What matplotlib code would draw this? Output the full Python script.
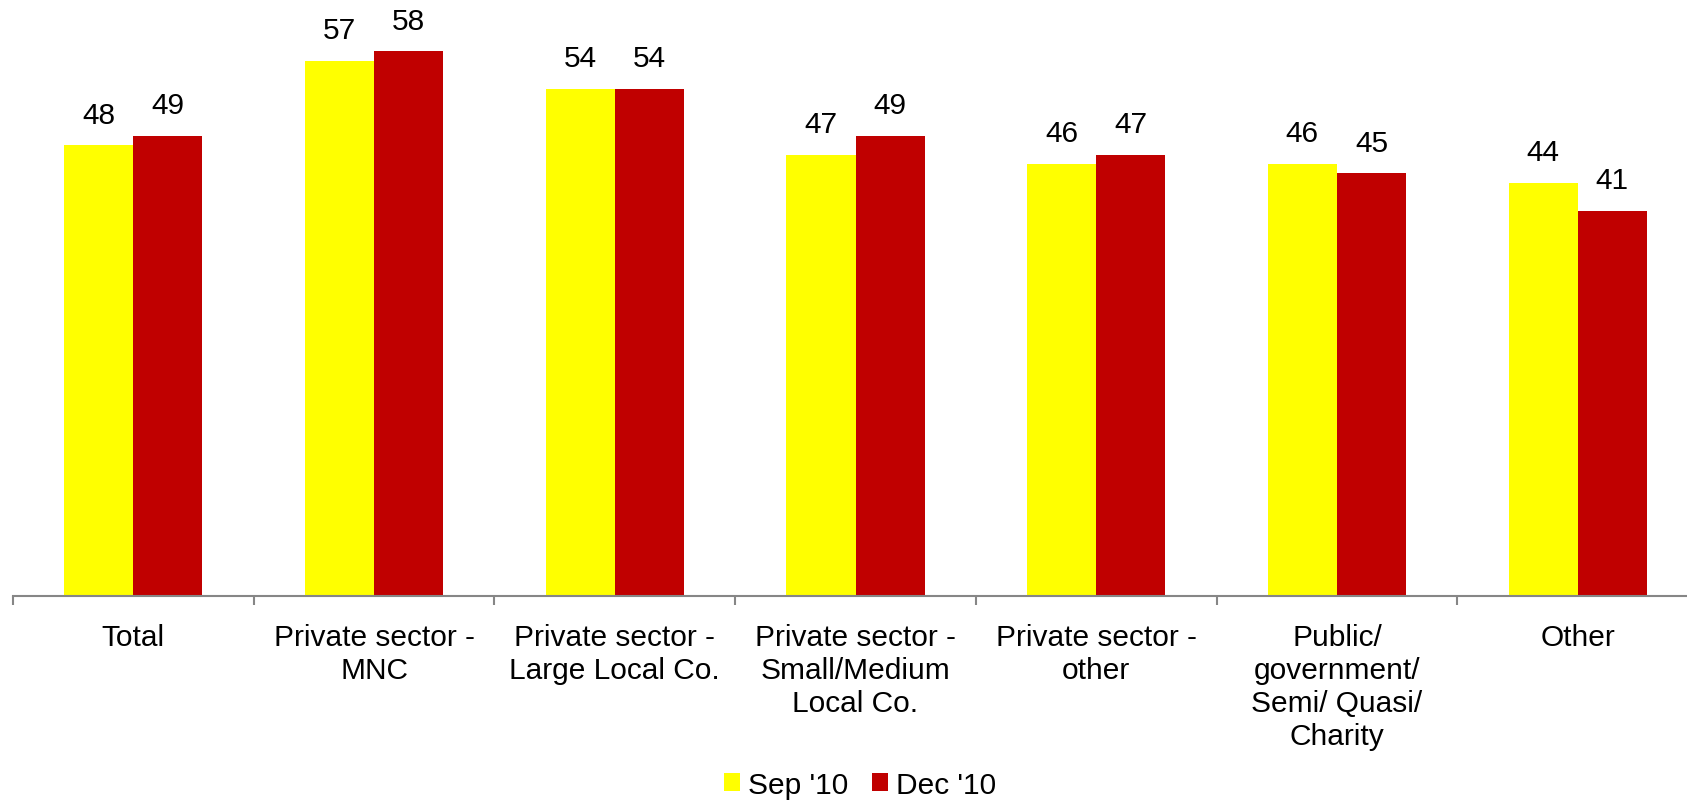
import matplotlib
matplotlib.use("Agg")
import matplotlib.pyplot as plt
import numpy as np
from matplotlib.patches import Patch

categories = [
    "Total",
    "Private sector -\nMNC",
    "Private sector -\nLarge Local Co.",
    "Private sector -\nSmall/Medium\nLocal Co.",
    "Private sector -\nother",
    "Public/\ngovernment/\nSemi/ Quasi/\nCharity",
    "Other",
]
sep_10 = [48, 57, 54, 47, 46, 46, 44]
dec_10 = [49, 58, 54, 49, 47, 45, 41]
series_names = ["Sep '10", "Dec '10"]

plt.rcParams["font.family"] = ["Liberation Sans", "DejaVu Sans"]

W, H = 1687, 803
fig = plt.figure(figsize=(W / 100, H / 100), dpi=100)
ax = fig.add_axes([13 / W, 1 - 597 / H, (1698 - 13) / W, 591.6 / H])

x = np.arange(len(categories))
bw = 0.287
yellow = "#FFFF00"
red = "#C00000"
fs = 21.5
b1 = ax.bar(x - bw / 2, sep_10, bw, color=yellow, zorder=2)
b2 = ax.bar(x + bw / 2, dec_10, bw, color=red, zorder=2)

for bars, vals in ((b1, sep_10), (b2, dec_10)):
    for rect, v in zip(bars, vals):
        ax.annotate(f"{v}", (rect.get_x() + rect.get_width() / 2, v),
                    xytext=(0, 12), textcoords="offset points",
                    ha="center", va="bottom", fontsize=fs)

ax.set_xlim(-0.5, len(categories) - 0.5)
ax.set_ylim(0, 63)

for s in ("top", "right", "left"):
    ax.spines[s].set_visible(False)
ax.spines["bottom"].set_color("#868686")
ax.spines["bottom"].set_linewidth(1.5)
ax.set_yticks([])

ax.set_xticks(x)
ax.set_xticklabels(categories, fontsize=fs, linespacing=1.22)
ax.tick_params(axis="x", which="major", length=0, pad=19.5)
ax.set_xticks(np.arange(len(categories) + 1) - 0.5, minor=True)
ax.tick_params(axis="x", which="minor", length=6.5, width=1.5, color="#868686")

handles = [Patch(facecolor=yellow, edgecolor="none"),
           Patch(facecolor=red, edgecolor="none")]
fig.legend(handles, series_names, loc="center",
           bbox_to_anchor=(860 / W, 1 - 786 / H), ncol=2, frameon=False,
           fontsize=fs, handlelength=0.55, handleheight=0.55,
           handletextpad=0.25, columnspacing=0.8, borderpad=0)

fig.savefig("out.png", dpi=100)
